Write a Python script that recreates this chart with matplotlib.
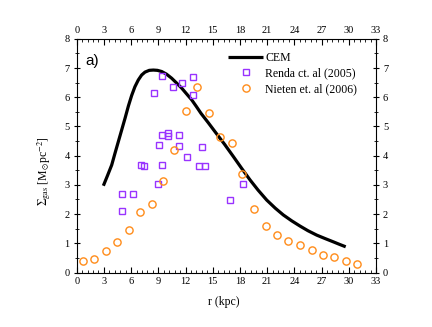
import matplotlib
matplotlib.use("Agg")
import matplotlib.pyplot as plt
from matplotlib.ticker import MultipleLocator

plt.rcParams['font.family'] = ['Liberation Serif', 'DejaVu Serif']
plt.rcParams['mathtext.fontset'] = 'stix'

# CEM model curve
cem_r = [2.94, 3.4, 3.86, 4.22, 4.59, 4.96, 5.33, 5.7, 6.06, 6.42, 6.79, 7.16, 7.53,
         8.0, 8.45, 8.9, 9.37, 9.9, 10.47, 11.0, 11.58, 12.1, 12.68, 13.2, 13.7,
         14.5, 15.25, 16.3, 17.27, 18.2, 19.11, 20.0, 20.95, 21.9, 22.78, 23.7,
         24.62, 25.5, 26.46, 27.4, 28.29, 29.0, 29.66]
cem_s = [2.97, 3.32, 3.68, 4.08, 4.48, 4.88, 5.28, 5.70, 6.06, 6.36, 6.59, 6.76, 6.86,
         6.92, 6.93, 6.92, 6.88, 6.79, 6.65, 6.49, 6.31, 6.12, 5.91, 5.68, 5.45,
         5.13, 4.82, 4.39, 3.97, 3.56, 3.17, 2.82, 2.48, 2.20, 1.97, 1.77,
         1.59, 1.43, 1.28, 1.16, 1.05, 0.96, 0.88]

# Renda et al. (2005)
renda_r = [4.99, 4.99, 6.24, 7.12, 7.42, 8.52, 8.96, 9.11, 9.40, 9.40, 9.44, 10.05,
           10.07, 10.58, 11.25, 11.31, 11.61, 12.16, 12.82, 12.82, 13.52, 13.85,
           14.1, 16.85, 18.37]
renda_s = [2.10, 2.68, 2.68, 3.69, 3.65, 6.16, 3.02, 4.35, 4.70, 6.74, 3.67, 4.79,
           4.67, 6.36, 4.69, 4.33, 6.48, 3.95, 6.68, 6.09, 3.64, 4.30,
           3.63, 2.49, 3.02]

# Nieten et al. (2006)
nieten_r = [0.66, 1.91, 3.20, 4.44, 5.73, 6.98, 8.26, 9.48, 10.76, 12.05, 13.26,
            14.55, 15.83, 17.09, 18.26, 19.55, 20.83, 22.08, 23.33, 24.62, 25.91,
            27.16, 28.40, 29.66, 30.90]
nieten_s = [0.39, 0.46, 0.74, 1.06, 1.47, 2.07, 2.36, 3.12, 4.21, 5.54, 6.34,
            5.45, 4.65, 4.42, 3.36, 2.19, 1.58, 1.28, 1.09, 0.94, 0.77,
            0.61, 0.52, 0.41, 0.30]

W, H = 432, 327
fig = plt.figure(figsize=(W / 100, H / 100), dpi=100)
ax = fig.add_axes([76.7 / W, 1 - 272.5 / H, (376 - 76.7) / W, (272.5 - 38.8) / H])

ax.plot(cem_r, cem_s, color='black', lw=2.3, label='CEM', zorder=3,
        solid_joinstyle='round', solid_capstyle='butt')
ax.plot(renda_r, renda_s, ls='none', marker='s', ms=4.6, mfc='none', mec='#9933FF',
        mew=1.0, label='Renda ct. al (2005)', zorder=4)
ax.plot(nieten_r, nieten_s, ls='none', marker='o', ms=5.2, mfc='none', mec='#FF8C1A',
        mew=1.0, label='Nieten et. al (2006)', zorder=4)

ax.set_xlim(0, 33)
ax.set_ylim(0, 8)
ax.xaxis.set_major_locator(MultipleLocator(3))
ax.xaxis.set_minor_locator(MultipleLocator(0.6))
ax.yaxis.set_major_locator(MultipleLocator(1))
ax.yaxis.set_minor_locator(MultipleLocator(0.5))
ax.tick_params(axis='x', which='both', direction='in', top=True, labeltop=True,
               bottom=True, labelbottom=True, labelsize=7.5, pad=3)
ax.tick_params(axis='y', which='both', direction='inout', left=True, right=True,
               labelleft=True, labelright=True, labelsize=7.5, pad=3)
ax.tick_params(which='major', length=4, width=0.8)
ax.tick_params(which='minor', length=2.5, width=0.6)
for s in ax.spines.values():
    s.set_linewidth(0.8)

fig.text(224 / W, 1 - 302 / H, 'r (kpc)', ha='center', va='center', fontsize=8.5)
fig.text(44 / W, 1 - 171 / H, r'$\Sigma_{\rm gas}$ [M$_{\odot}$pc$^{-2}$]',
         rotation=90, ha='center', va='center', fontsize=8.5)
ax.text(0.03, 0.905, 'a)', transform=ax.transAxes, fontsize=11,
        family=['Liberation Sans', 'DejaVu Sans'], ha='left', va='center')

leg = ax.legend(loc='upper left', bbox_to_anchor=(0.505, 0.945), frameon=False,
                fontsize=8.5, handlelength=3.0, handletextpad=0.15,
                labelspacing=0.32, borderaxespad=0, borderpad=0)

fig.savefig('out.png', dpi=100)
